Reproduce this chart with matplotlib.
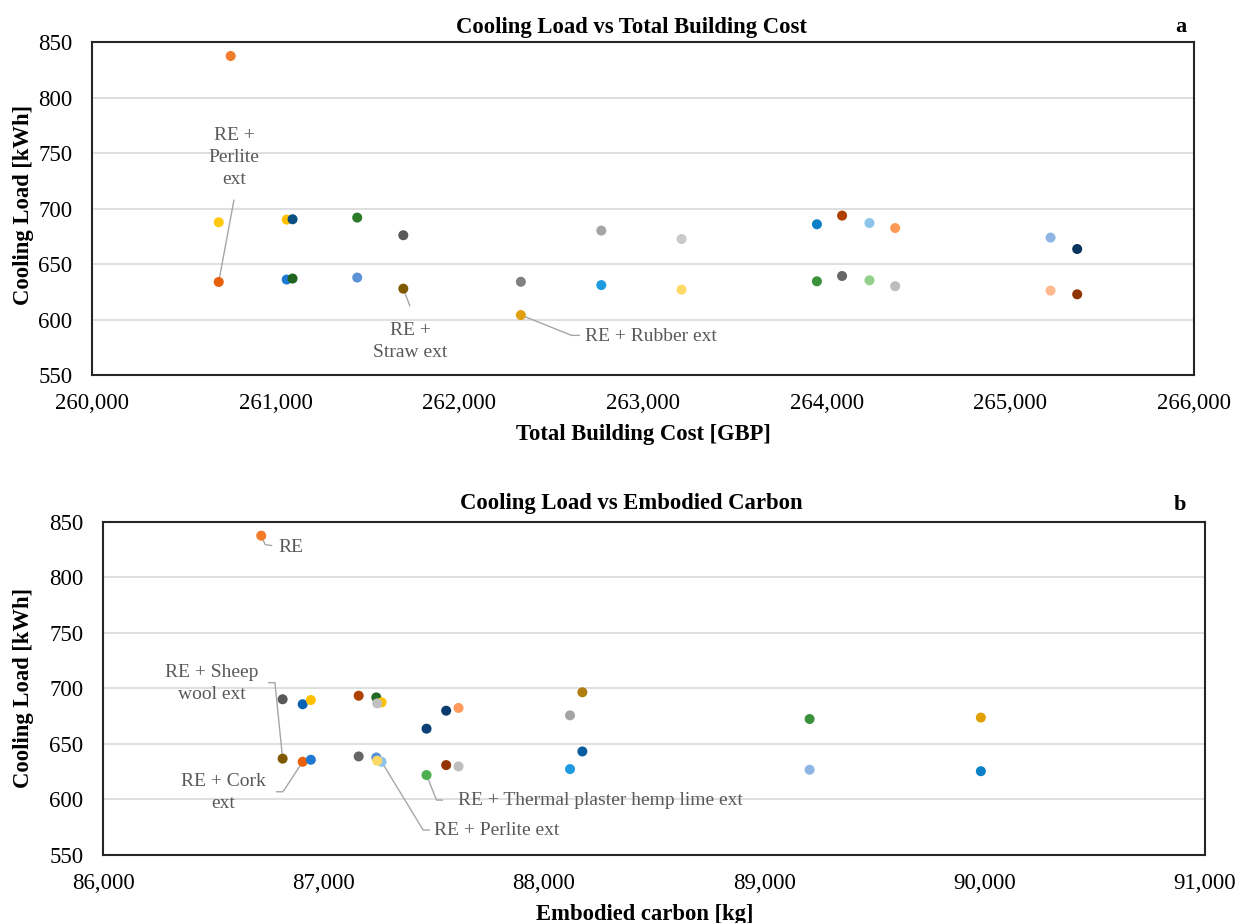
import numpy as np
import matplotlib
matplotlib.use("Agg")
import matplotlib.pyplot as plt
from matplotlib.ticker import StrMethodFormatter

plt.rcParams['font.family'] = ['Liberation Serif', 'DejaVu Serif']

# ---- Chart a: cooling load against total building cost ----
cost_gbp = [260755, 260690, 260690, 261060, 261092, 261444, 261695, 261060,
            261092, 261444, 261695, 262773, 263210, 262335, 262773, 263210,
            262335, 263947, 264084, 264233, 264373, 265219, 265364, 263947,
            264084, 264233, 264373, 265219, 265364]
cost_cooling_kwh = [837.4, 687.6, 633.8, 690.0, 690.3, 691.8, 675.9, 636.0,
                    636.9, 637.8, 627.8, 680.1, 672.5, 634.0, 631.0, 626.9,
                    604.0, 685.8, 693.6, 686.9, 682.4, 673.8, 663.5, 634.4,
                    639.2, 635.3, 630.0, 626.0, 622.7]
cost_colors = ['#F47B2A', '#FFC90E', '#E8600A', '#FFC000', '#0A4F80', '#2A7A2A',
               '#595959', '#1F78D1', '#1E631E', '#5B92D5', '#7F5A00', '#A5A5A5',
               '#C9C9C9', '#808080', '#1E9BE0', '#FFD966', '#E0A010', '#0A80C8',
               '#B04000', '#8CC4EA', '#FF9A56', '#8EB4E3', '#08335F', '#3A923A',
               '#666666', '#93D08C', '#BDBDBD', '#FFB990', '#8F3300']

# ---- Chart b: cooling load against embodied carbon ----
carbon_kg = [86718, 86815, 86906, 86943, 87160, 87240, 87264, 87244, 87557,
             87613, 87468, 86815, 86906, 86943, 87160, 87240, 87264, 87244,
             87468, 87557, 87613, 88175, 88119, 89206, 88175, 88119, 89206,
             89983, 89983]
carbon_cooling_kwh = [837.7, 690.3, 685.8, 689.6, 693.5, 692.0, 687.5, 686.6,
                      680.0, 682.5, 663.8, 636.8, 634.0, 635.8, 638.8, 637.9,
                      634.0, 634.9, 622.0, 631.0, 629.8, 696.6, 675.8, 672.5,
                      643.3, 627.4, 626.8, 673.8, 625.5]
carbon_colors = ['#F47B2A', '#595959', '#0A62B5', '#FFC000', '#B04000', '#236B23',
                 '#FFC000', '#C0C0C0', '#0B3A6E', '#FF9A5A', '#0B3F78', '#7F5A00',
                 '#E8600A', '#1F78D1', '#666666', '#5B92D5', '#8CC4EA', '#FFD966',
                 '#4CAF50', '#943300', '#BDBDBD', '#B07D10', '#A5A5A5', '#3A923A',
                 '#0A5EA0', '#1E9BE0', '#8EB4E3', '#E0A000', '#0A80C8']

y_ticks = [550, 600, 650, 700, 750, 800, 850]
cost_ticks = [260000, 261000, 262000, 263000, 264000, 265000, 266000]
carbon_ticks = [86000, 87000, 88000, 89000, 90000, 91000]

W, H = 1242, 923
fig = plt.figure(figsize=(W / 100, H / 100), dpi=100)


def px_axes(left, top, right, bottom):
    return fig.add_axes([left / W, 1 - bottom / H, (right - left) / W, (bottom - top) / H])


ax_a = px_axes(92, 42, 1194, 375)
ax_b = px_axes(103, 522, 1205, 855)

LABEL_COLOR = '#595959'
LEADER_COLOR = '#A6A6A6'


def style_axes(ax, xticks, xlabel):
    ax.set_ylim(550, 850)
    ax.set_xlim(xticks[0], xticks[-1])
    ax.set_yticks(y_ticks)
    ax.set_xticks(xticks)
    ax.xaxis.set_major_formatter(StrMethodFormatter('{x:,.0f}'))
    ax.tick_params(axis='both', length=0, labelsize=16.5, colors='black')
    ax.tick_params(axis='y', pad=14)
    ax.tick_params(axis='x', pad=13)
    ax.grid(axis='y', color='#D9D9D9', linewidth=1.2)
    ax.set_axisbelow(True)
    for sp in ax.spines.values():
        sp.set_color('#262626')
        sp.set_linewidth(1.5)
    ax.set_xlabel(xlabel, fontsize=16.3, fontweight='bold')
    ax.set_ylabel('Cooling Load [kWh]', fontsize=16.3, fontweight='bold')
    ax.xaxis.label.set_va('center')
    ax.yaxis.label.set_va('center')


style_axes(ax_a, cost_ticks, 'Total Building Cost [GBP]')
style_axes(ax_b, carbon_ticks, 'Embodied carbon [kg]')
ax_a.xaxis.set_label_coords(0.5, -0.18)
ax_a.yaxis.set_label_coords(-0.062, 0.51)
ax_b.xaxis.set_label_coords(0.492, -0.18)
ax_b.yaxis.set_label_coords(-0.072, 0.5)

ax_a.scatter(cost_gbp, cost_cooling_kwh, s=52, c=cost_colors, linewidths=0, zorder=3)
ax_b.scatter(carbon_kg, carbon_cooling_kwh, s=52, c=carbon_colors, linewidths=0, zorder=3)

fig.text(631 / W, 1 - 27 / H, 'Cooling Load vs Total Building Cost', ha='center', va='center',
         fontsize=16.3, fontweight='bold')
fig.text(631 / W, 1 - 504 / H, 'Cooling Load vs Embodied Carbon', ha='center', va='center',
         fontsize=16.3, fontweight='bold')
fig.text(1181 / W, 1 - 27 / H, 'a', ha='center', va='center', fontsize=16, fontweight='bold')
fig.text(1180 / W, 1 - 505 / H, 'b', ha='center', va='center', fontsize=16, fontweight='bold')


def callout(ax, xs, ys, i, path, text_off, text, ha='center'):
    """Leader line from point i through pixel offsets (image orientation),
    then the label placed at text_off from the point."""
    p0 = ax.transData.transform((xs[i], ys[i]))
    pts = [p0] + [p0 + np.array([dx, -dy]) for dx, dy in path]
    dpts = ax.transData.inverted().transform(np.array(pts))
    ax.plot(dpts[:, 0], dpts[:, 1], color=LEADER_COLOR, lw=1.0, zorder=2,
            solid_capstyle='butt', clip_on=False)
    tx, ty = ax.transData.inverted().transform(p0 + np.array([text_off[0], -text_off[1]]))
    ax.text(tx, ty, text, ha=ha, va='center', fontsize=14, color=LABEL_COLOR,
            linespacing=1.38, multialignment='center', zorder=4)


# labels on chart a
callout(ax_a, cost_gbp, cost_cooling_kwh, 2, [(15.3, -82.4)], (15.3, -124.2),
        'RE +\nPerlite\next')
callout(ax_a, cost_gbp, cost_cooling_kwh, 10, [(6.7, 17.7)], (6.7, 52.7),
        'RE +\nStraw ext')
callout(ax_a, cost_gbp, cost_cooling_kwh, 16, [(50.7, 20.3), (59, 20.3)], (64, 21.3),
        'RE + Rubber ext', ha='left')

# labels on chart b
callout(ax_b, carbon_kg, carbon_cooling_kwh, 0, [(4, 9), (11, 10)], (17, 11.5),
        'RE', ha='left')
callout(ax_b, carbon_kg, carbon_cooling_kwh, 11, [(-7.7, -76), (-14.7, -76)], (-70.7, -74.7),
        'RE + Sheep\nwool ext')
callout(ax_b, carbon_kg, carbon_cooling_kwh, 12, [(-19.7, 30), (-26.7, 30)], (-79.7, 30.8),
        'RE + Cork\next')
callout(ax_b, carbon_kg, carbon_cooling_kwh, 18, [(10, 25), (16.6, 25)], (31.6, 25.7),
        'RE + Thermal plaster hemp lime ext', ha='left')
callout(ax_b, carbon_kg, carbon_cooling_kwh, 16, [(41.6, 68.3), (48.3, 68.3)], (52.6, 69),
        'RE + Perlite ext', ha='left')

fig.savefig('out.png', dpi=100)
